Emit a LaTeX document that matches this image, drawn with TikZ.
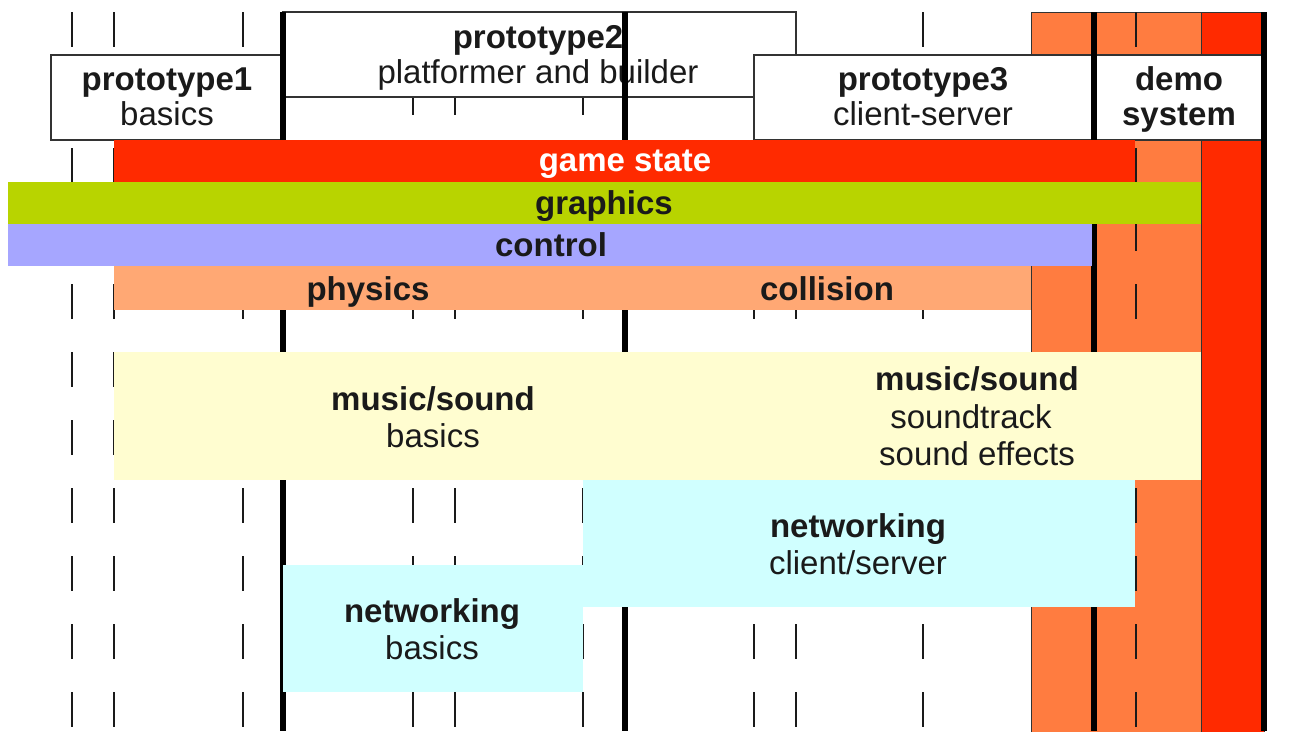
\documentclass[tikz,border=0pt]{standalone}
\usepackage{fontspec}
\setmainfont{Liberation Sans}
\definecolor{gsred}{HTML}{FF2A00}
\definecolor{colorange}{HTML}{FF7C40}
\definecolor{gfxgreen}{HTML}{B8D400}
\definecolor{ctlblue}{HTML}{A6A6FF}
\definecolor{physorange}{HTML}{FFA874}
\definecolor{musicyellow}{HTML}{FFFDD0}
\definecolor{netcyan}{HTML}{D0FFFF}
\definecolor{ink}{HTML}{1A1A1A}
\definecolor{edge}{HTML}{333333}
\begin{document}
\begin{tikzpicture}[x=1pt,y=-1pt,
  tt/.style={anchor=base, font=\fontsize{33}{37}\selectfont\bfseries, text=ink, inner sep=0pt},
  st/.style={anchor=base, font=\fontsize{33}{37}\selectfont, text=ink, inner sep=0pt},
  boxframe/.style={fill=white, draw=edge, line width=1.4pt},
  colframe/.style={draw=edge, line width=1pt},
  tick/.style={draw=ink, line width=1.5pt, dash pattern=on 35pt off 33pt},
  milestone/.style={draw=black, line width=5.5pt}]
\useasboundingbox (0,0) rectangle (1306,731);
% demo-phase columns
\filldraw[colframe, fill=colorange] (1031,12) rectangle (1201,740);
\filldraw[colframe, fill=gsred] (1201,12) rectangle (1264,740);
% week ticks
\foreach \x in {72,114,243,413,455,583,754,796,923,1136}
  \draw[tick] (\x,12) -- (\x,731);
% prototype boxes
\draw[boxframe] (283,12) rectangle (796,97);
\draw[boxframe] (51,55) rectangle (283,140);
\draw[boxframe] (754,55) rectangle (1094,140);
\draw[boxframe] (1094,55) rectangle (1264,140);
\node[tt] (p1) at (167,90) {prototype1};
\node[st] (p1s) at (167,125) {basics};
\node[tt] (p2) at (538,48) {prototype2};
\node[st] (p2s) at (538,83) {platformer and builder};
\node[tt] (p3) at (923,90) {prototype3};
\node[st] (p3s) at (923,125) {client-server};
\node[tt] (demo) at (1179,90) {demo};
\node[tt] (demos) at (1179,125) {system};
% milestone lines
\foreach \x in {283,625,1094,1264}
  \draw[milestone] (\x,12) -- (\x,731);
% task bars
\fill[gsred] (114,140) rectangle (1135,182);
\fill[gfxgreen] (8,182) rectangle (1201,224);
\fill[ctlblue] (8,224) rectangle (1092,266);
\fill[physorange] (114,266) rectangle (1031,310);
\fill[musicyellow] (114,352) rectangle (1201,480);
\fill[netcyan] (583,480) rectangle (1135,607);
\fill[netcyan] (283,565) rectangle (583,692);
% bar labels
\node[tt, text=white] (gs) at (625,171) {game state};
\node[tt] (gfx) at (604,214) {graphics};
\node[tt] (ctl) at (551,256) {control};
\node[tt] (phys) at (368,300) {physics};
\node[tt] (coll) at (827,300) {collision};
\node[tt] (ms1) at (433,410) {music/sound};
\node[st] (ms1s) at (433,447) {basics};
\node[tt] (ms2) at (977,390) {music/sound};
\node[st] (ms2a) at (971,428) {soundtrack};
\node[st] (ms2b) at (977,465) {sound effects};
\node[tt] (net2) at (858,537) {networking};
\node[st] (net2s) at (858,574) {client/server};
\node[tt] (net1) at (432,622) {networking};
\node[st] (net1s) at (432,659) {basics};
\end{tikzpicture}
\end{document}
